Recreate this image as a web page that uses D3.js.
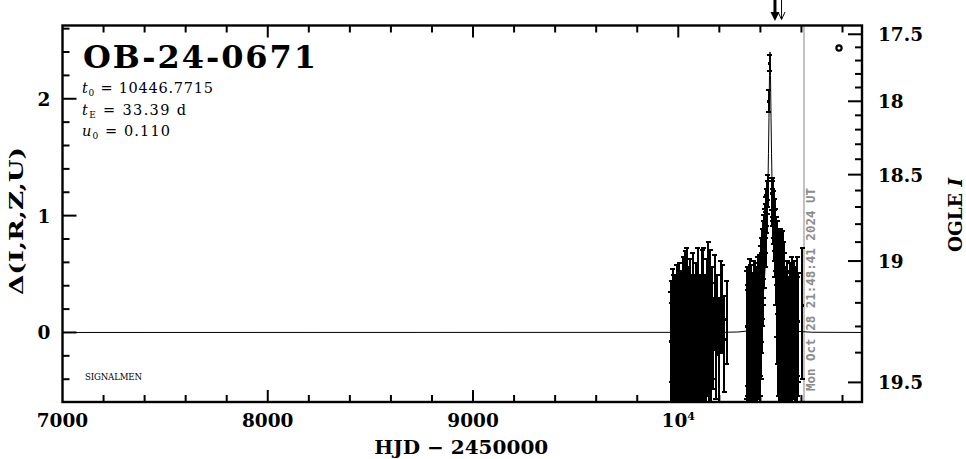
<!DOCTYPE html>
<html><head><meta charset="utf-8">
<script src="https://cdn.jsdelivr.net/npm/d3@7"></script>
<style>body{margin:0;background:#fff}svg{display:block}</style>
</head><body><svg id="c" width="966" height="459"></svg>
<script>
// ---------------- data ----------------
const eventName = "OB-24-0671";
const paramNames = ["t", "t", "u"];
const paramSubs = ["0", "E", "0"];
const paramValues = ["10446.7715", "33.39 d", "0.110"];
const xMajorTicks = [7000, 8000, 9000, 10000];
const xTickLabels = ["7000", "8000", "9000", "10"];
const yMajorTicks = [0, 1, 2];
const magMajorTicks = [17.5, 18, 18.5, 19, 19.5];
const magTickLabels = ["17.5", "18", "18.5", "19", "19.5"];
const baseMag = 19.324;     // OGLE I baseline
const sourceFrac = 0.46;    // source flux fraction at baseline
const nowHJD = 10612.4;
const nowLabel = "Mon Oct 28 21:48:41 2024 UT";
const arrowTimes = [10471, 10503];

// OGLE I photometry: HJD-2450000, mag, error
const obsT = [9964,9966,9968,9970,9972,9974,9976,9978,9980,9982,9984,9986,9988,9990,9992,9994,9996,9998,10000,10002,10004,10006,10008,10010,10012,10014,10016,10018,10020,10022,10024,10026,10028,10030,10032,10034,10036,10038,10040,10042,10044,10046,10048,10050,10052,10054,10056,10058,10060,10062,10064,10066,10068,10070,10072,10074,10076,10078,10080,10083,10086,10089,10092,10095,10098,10101,10104,10107,10110,10113,10116,10119,10122,10126,10130,10134,10138,10142,10146,10151,10156,10161,10166,10171,10177,10183,10190,10198,10206,10215,10225,10236,
10333,10335,10337,10339,10341,10343,10345,10347,10349,10351,10353,10355,10357,10359,10361,10363,10365,10367,10369,10371,10373,10375,10377,10379,10381,10383,10385,10387,10389,10391,10393,10395,10397,10399,10401,10403,10405,10407,10409,10411,10413,10415,10417,10419,10421,10423,10425,10427,10429,10431,10433,10435,10437,10441,10445.5,10455,10457,10459,10461,10463,10465,10467,10469,10471,10473,10475,10477,10479,10481,10483,10485,10487,10489,10491,10493,10495,10497,10499,10501,10503,10505,10507,10509,10511,10513,10515,10517,10519,10521,10523,10525,10528,10531,10534,10537,10540,10543,10546,10549,10552,10555,10558,10561,10564,10567,10570,10573,10576,10579,10582,10585,10604];
const obsMag = [19.36,19.30,19.42,19.33,19.25,19.38,19.31,19.44,19.29,19.35,19.40,19.27,19.37,19.32,19.22,19.39,19.34,19.46,19.30,19.36,19.28,19.41,19.33,19.24,19.38,19.35,19.29,19.43,19.31,19.37,19.20,19.34,19.40,19.30,19.36,19.18,19.33,19.39,19.15,19.35,19.45,19.32,19.38,19.26,19.41,19.34,19.23,19.37,19.31,19.43,19.29,19.36,19.33,19.21,19.38,19.35,19.28,19.42,19.32,19.37,19.25,19.39,19.34,19.19,19.36,19.30,19.41,19.33,19.27,19.38,19.16,19.35,19.13,19.40,19.29,19.36,19.22,19.34,19.14,19.37,19.15,19.39,19.26,19.35,19.18,19.33,19.24,19.38,19.20,19.21,19.35,19.27,
19.30,19.36,19.27,19.33,19.40,19.29,19.35,19.24,19.38,19.31,19.26,19.37,19.32,19.28,19.41,19.30,19.34,19.25,19.36,19.29,19.33,19.23,19.38,19.31,19.27,19.35,19.30,19.22,19.34,19.28,19.32,19.21,19.30,19.26,19.20,19.24,19.12,19.18,19.05,19.10,18.98,19.02,18.92,18.96,18.86,18.82,18.88,18.76,18.70,18.74,18.64,18.60,18.58,18.00,17.72,18.62,18.70,18.66,18.64,18.78,18.74,18.86,18.80,18.92,18.88,19.02,18.94,19.12,18.98,19.20,19.04,19.28,19.06,19.30,19.10,19.32,19.08,19.28,19.14,19.34,19.12,19.30,19.13,19.36,19.18,19.31,19.22,19.25,19.39,19.32,19.28,19.35,19.22,19.33,19.29,19.37,19.26,19.34,19.30,19.21,19.36,19.28,19.33,19.25,19.38,19.30,19.27,19.35,19.23,19.31,19.28,19.21];
const obsErr = [0.21,0.20,0.22,0.23,0.21,0.20,0.24,0.22,0.19,0.21,0.23,0.20,0.22,0.25,0.20,0.21,0.23,0.24,0.21,0.20,0.27,0.22,0.21,0.19,0.23,0.20,0.24,0.22,0.21,0.20,0.22,0.23,0.21,0.19,0.24,0.23,0.20,0.22,0.22,0.25,0.22,0.20,0.21,0.23,0.20,0.22,0.24,0.21,0.20,0.23,0.22,0.21,0.19,0.25,0.22,0.20,0.21,0.23,0.22,0.20,0.24,0.21,0.22,0.26,0.20,0.23,0.21,0.22,0.20,0.24,0.22,0.21,0.20,0.20,0.22,0.21,0.23,0.20,0.24,0.22,0.21,0.20,0.23,0.17,0.21,0.22,0.17,0.20,0.20,0.19,0.18,0.17,
0.25,0.22,0.24,0.21,0.23,0.26,0.22,0.25,0.21,0.23,0.24,0.22,0.25,0.21,0.23,0.24,0.22,0.25,0.21,0.23,0.26,0.22,0.24,0.21,0.23,0.25,0.22,0.24,0.21,0.25,0.23,0.24,0.26,0.28,0.28,0.25,0.24,0.22,0.22,0.20,0.20,0.19,0.17,0.17,0.15,0.14,0.15,0.12,0.11,0.11,0.10,0.10,0.08,0.08,0.06,0.10,0.11,0.12,0.12,0.13,0.14,0.14,0.15,0.16,0.17,0.19,0.18,0.22,0.20,0.24,0.21,0.26,0.23,0.27,0.24,0.26,0.25,0.27,0.26,0.25,0.27,0.24,0.29,0.23,0.28,0.25,0.26,0.22,0.24,0.21,0.23,0.25,0.22,0.24,0.21,0.23,0.25,0.22,0.24,0.23,0.21,0.24,0.22,0.25,0.23,0.21,0.24,0.22,0.25,0.23,0.22,0.28];

// model curve: HJD-2450000, delta
const modelT = [7000,10200,10290,10330,10367,10387,10407,10417,10427,10432,10437,10439.3,10441.8,10444.3,10446.8,10449.3,10451.8,10454.3,10456.8,10461.8,10466.8,10476.8,10486.8,10506.8,10526.8,10566.8,10650,10900];
const modelD = [0,0.001,0.004,0.011,0.038,0.086,0.223,0.380,0.675,0.919,1.280,1.530,1.841,2.197,2.401,2.197,1.841,1.530,1.280,0.919,0.675,0.380,0.223,0.086,0.038,0.011,0.002,0];

// ---------------- drawing ----------------
const svg = d3.select("#c");
const L = 62.5, R = 862, T = 25.5, B = 402;
const x = d3.scaleLinear().domain([7000, 10895]).range([L, R]);
const y = d3.scaleLinear().domain([-0.595, 2.627]).range([B, T]);
function magToDelta(m) {
  const f = Math.pow(10, -0.4 * (m - baseMag)) - (1 - sourceFrac);
  if (f <= 0) return -5;
  return 2.5 * Math.log10(f / sourceFrac);
}
const yMag = m => y(magToDelta(m));

const serif = "'DejaVu Serif', serif";
svg.append("defs").append("clipPath").attr("id", "pc")
  .append("rect").attr("x", L).attr("y", T).attr("width", R - L).attr("height", B - T);

const plot = svg.append("g").attr("clip-path", "url(#pc)");

// current date line
plot.append("line").attr("x1", x(nowHJD)).attr("x2", x(nowHJD)).attr("y1", T).attr("y2", B)
  .attr("stroke", "#999").attr("stroke-width", 1.2);

// model
plot.append("path").datum(modelT.map((t, i) => [t, modelD[i]]))
  .attr("d", d3.line().x(d => x(d[0])).y(d => y(d[1])))
  .attr("fill", "none").attr("stroke", "#000").attr("stroke-width", 1);

// data with error bars
const obs = obsT.map((t, i) => ({t, m: obsMag[i], e: obsErr[i]}));
const g = plot.append("g").attr("stroke", "#000").attr("stroke-width", 2).attr("shape-rendering", "crispEdges");
obs.forEach(d => {
  const xc = x(d.t), y0 = yMag(d.m), yh = yMag(d.m - d.e), yl = yMag(d.m + d.e);
  g.append("line").attr("x1", xc).attr("x2", xc).attr("y1", yl).attr("y2", yh);
  g.append("line").attr("x1", xc - 2.5).attr("x2", xc + 2.5).attr("y1", yh).attr("y2", yh);
  g.append("line").attr("x1", xc - 2.5).attr("x2", xc + 2.5).attr("y1", yl).attr("y2", yl);
  g.append("rect").attr("x", xc - 1.5).attr("y", y0 - 1.5).attr("width", 3).attr("height", 3)
    .attr("fill", "#000").attr("stroke", "none");
});

// frame
svg.append("rect").attr("x", L).attr("y", T).attr("width", R - L).attr("height", B - T)
  .attr("fill", "none").attr("stroke", "#000").attr("stroke-width", 2.4);

// x ticks (bottom and top)
const xMinor = d3.range(7200, 10895, 200);
const tk = svg.append("g").attr("stroke", "#000").attr("stroke-width", 2);
xMinor.forEach(v => {
  const len = xMajorTicks.includes(v) ? 12 : 7;
  tk.append("line").attr("x1", x(v)).attr("x2", x(v)).attr("y1", B).attr("y2", B - len);
  tk.append("line").attr("x1", x(v)).attr("x2", x(v)).attr("y1", T).attr("y2", T + len);
});
// left y ticks
d3.range(-0.4, 2.61, 0.2).forEach(v => {
  const vv = Math.round(v * 10) / 10;
  const len = yMajorTicks.includes(vv) ? 14 : 7;
  tk.append("line").attr("x1", L).attr("x2", L + len).attr("y1", y(vv)).attr("y2", y(vv));
});
// right mag ticks
d3.range(17.5, 19.51, 0.1).forEach(v => {
  const vv = Math.round(v * 10) / 10;
  const len = magMajorTicks.includes(vv) ? 14 : 7;
  tk.append("line").attr("x1", R).attr("x2", R - len).attr("y1", yMag(vv)).attr("y2", yMag(vv));
});

// tick labels
const lab = svg.append("g").attr("font-family", serif).attr("font-weight", "bold").attr("font-size", 18.5).attr("fill", "#000");
xMajorTicks.forEach((v, i) => {
  const t = lab.append("text").attr("x", x(v)).attr("y", 427).attr("text-anchor", "middle").text(xTickLabels[i]);
  if (v === 10000) t.append("tspan").attr("font-size", 11).attr("dy", -7).text("4");
});
yMajorTicks.forEach(v => {
  lab.append("text").attr("x", 44).attr("y", y(v) + 7).attr("text-anchor", "middle").text(String(v));
});
magMajorTicks.forEach((v, i) => {
  lab.append("text").attr("x", 878).attr("y", yMag(v) + 7).text(magTickLabels[i]);
});

// axis titles
lab.append("text").attr("x", (L + R) / 2 - 1).attr("y", 454).attr("text-anchor", "middle")
  .attr("textLength", 174).attr("lengthAdjust", "spacingAndGlyphs").text("HJD  \u2212  2450000");
lab.append("text").attr("transform", "translate(23,221) rotate(-90)").attr("text-anchor", "middle")
  .attr("font-size", 19).attr("textLength", 148).attr("lengthAdjust", "spacingAndGlyphs").text("\u0394(I,R,Z,U)");
const rt = lab.append("text").attr("transform", "translate(962,215) rotate(-90)").attr("text-anchor", "middle");
rt.append("tspan").text("OGLE ");
rt.append("tspan").attr("font-style", "italic").text("I");

// title
svg.append("text").attr("x", 83).attr("y", 68).attr("font-family", serif).attr("font-weight", "bold")
  .attr("font-size", 32).attr("textLength", 233).attr("lengthAdjust", "spacing").text(eventName);

// parameters
const paramWidths = [131, 104, 88];
paramNames.forEach((n, i) => {
  const t = svg.append("text").attr("x", 82).attr("y", 93 + i * 21.5).attr("font-family", serif)
    .attr("font-size", 14.5).attr("fill", "#000")
    .attr("textLength", paramWidths[i]).attr("lengthAdjust", "spacing");
  t.append("tspan").attr("font-style", "italic").text(n);
  t.append("tspan").attr("font-size", 9).attr("dy", 3).text(paramSubs[i]);
  t.append("tspan").attr("dy", -3).text(" = " + paramValues[i]);
});

// small label
svg.append("text").attr("x", 85).attr("y", 380).attr("font-family", serif).attr("font-size", 8.6)
  .attr("textLength", 57).text("SIGNALMEN");

// date stamp
svg.append("text").attr("transform", `translate(${x(nowHJD) + 11},391) rotate(-90)`)
  .attr("font-family", "'DejaVu Sans Mono', monospace").attr("font-weight", "bold").attr("font-size", 12)
  .attr("fill", "#8c8c8c").attr("textLength", 203).attr("lengthAdjust", "spacingAndGlyphs").text(nowLabel);

// legend marker
svg.append("circle").attr("cx", 839).attr("cy", 48).attr("r", 2.6).attr("fill", "none")
  .attr("stroke", "#000").attr("stroke-width", 2.2);

// arrows above the frame
const a0 = x(arrowTimes[0]), a1 = x(arrowTimes[1]);
svg.append("line").attr("x1", a0).attr("x2", a0).attr("y1", 0).attr("y2", 15).attr("stroke", "#000").attr("stroke-width", 3);
svg.append("path").attr("d", `M${a0 - 4.5},12 L${a0 + 4.5},12 L${a0},21 Z`).attr("fill", "#000");
svg.append("line").attr("x1", a1).attr("x2", a1).attr("y1", 0).attr("y2", 19).attr("stroke", "#000").attr("stroke-width", 1);
svg.append("path").attr("d", `M${a1 - 3.5},12 L${a1},19.5 L${a1 + 3.5},12`).attr("fill", "none").attr("stroke", "#000").attr("stroke-width", 1);
</script></body></html>
